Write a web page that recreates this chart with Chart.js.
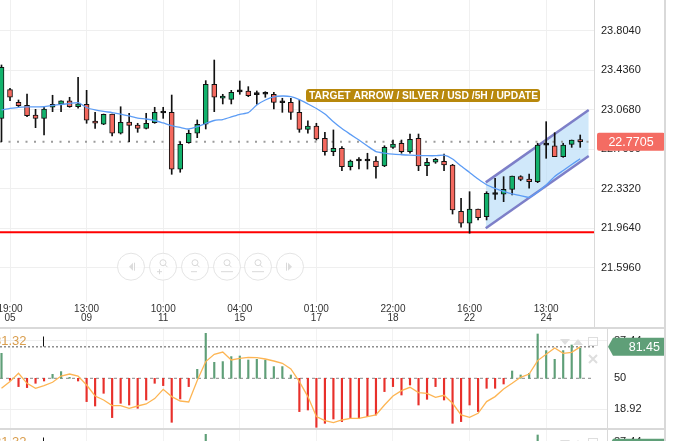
<!DOCTYPE html>
<html lang="en">
<head>
<meta charset="UTF-8">
<title>Silver / USD 5H</title>
<script src="https://cdn.jsdelivr.net/npm/chart.js"></script>
<style>
  body { margin: 0; background: #fff; }
  .wrap { position: relative; width: 682px; height: 441px; overflow: hidden; }
  .pane { position: absolute; left: 0; width: 682px; }
  .sep { position: absolute; background: #d9d9d9; }
</style>
</head>
<body>
<div class="wrap">
  <div class="pane" style="top:0;height:327px"><canvas id="priceChart"></canvas></div>
  <div class="pane" style="top:329px;height:99px"><canvas id="oscChart"></canvas></div>
  <div class="pane" style="top:430px;height:99px"><canvas id="oscChart2"></canvas></div>
  <div class="sep" style="left:0;top:327px;width:665px;height:2px"></div>
  <div class="sep" style="left:0;top:428px;width:665px;height:2px"></div>
  <div class="sep" style="left:594px;top:0;width:1px;height:327px"></div>
  <div class="sep" style="left:607px;top:329px;width:1px;height:99px"></div>
  <div class="sep" style="left:607px;top:430px;width:1px;height:99px"></div>
  <div class="sep" style="left:664px;top:0;width:2px;height:441px"></div>
</div>

<script>
// candles, one per 5h bar (index 0..68)
const opens  = [22.988,23.255,23.137,23.109,23.019,22.988,23.091,23.119,23.150,23.096,
                23.119,22.963,22.933,23.028,22.849,22.954,22.926,22.895,22.947,23.038,
                23.044,22.514,22.761,22.849,22.933,23.305,23.175,23.165,23.234,23.243,
                23.209,23.212,23.212,23.133,23.137,23.044,22.886,22.917,22.802,22.677,
                22.709,22.538,22.591,22.591,22.591,22.544,22.718,22.756,22.677,22.802,
                22.547,22.579,22.588,22.554,22.123,22.011,22.144,22.072,22.279,22.281,
                22.327,22.445,22.423,22.398,22.738,22.731,22.631,22.746,22.784];
const highs  = [23.485,23.268,23.159,23.215,23.072,23.091,23.203,23.150,23.184,23.370,
                23.249,23.044,23.028,23.028,23.096,23.035,22.942,23.035,23.091,23.091,
                23.205,22.771,22.880,22.973,23.339,23.531,23.212,23.249,23.336,23.283,
                23.243,23.236,23.231,23.175,23.175,23.159,22.966,22.942,22.858,22.880,
                22.724,22.600,22.622,22.663,22.631,22.733,22.786,22.786,22.842,22.842,
                22.616,22.616,22.656,22.560,22.244,22.305,22.144,22.305,22.430,22.445,
                22.451,22.454,22.470,22.756,22.957,22.854,22.756,22.786,22.833];
const lows   = [22.771,23.152,23.091,23.003,22.901,22.833,23.050,23.050,23.091,23.082,
                22.942,22.895,22.929,22.824,22.842,22.771,22.858,22.889,22.942,22.988,
                22.467,22.486,22.756,22.808,22.889,23.050,23.122,23.122,23.212,23.190,
                23.119,23.184,23.075,23.044,22.979,22.858,22.849,22.786,22.644,22.640,
                22.501,22.507,22.516,22.516,22.430,22.538,22.709,22.663,22.663,22.501,
                22.454,22.569,22.501,22.097,21.974,21.918,22.042,22.042,22.234,22.212,
                22.274,22.407,22.337,22.389,22.616,22.631,22.625,22.718,22.718];
const closes = [23.463,23.184,23.106,23.013,22.988,23.075,23.119,23.150,23.096,23.122,
                22.970,22.942,23.026,22.849,22.951,22.923,22.895,22.942,23.044,23.038,
                22.514,22.746,22.849,22.933,23.305,23.184,23.196,23.231,23.234,23.199,
                23.209,23.212,23.137,23.133,23.044,22.886,22.917,22.796,22.677,22.709,
                22.538,22.591,22.591,22.591,22.538,22.718,22.749,22.677,22.793,22.544,
                22.579,22.607,22.554,22.135,22.011,22.144,22.063,22.290,22.279,22.327,
                22.451,22.420,22.398,22.740,22.738,22.631,22.740,22.786,22.7705];
const movingAvg = [23.066,23.080,23.091,23.094,23.094,23.096,23.108,23.117,23.126,23.134,
                23.089,23.066,23.052,23.042,23.028,23.010,22.991,22.982,22.968,22.945,
                22.921,22.903,22.889,22.910,22.940,22.968,22.977,23.001,23.026,23.041,
                23.112,23.159,23.187,23.196,23.190,23.162,23.122,23.080,23.028,22.957,
                22.893,22.839,22.786,22.731,22.679,22.665,22.654,22.649,22.645,22.642,
                22.640,22.640,22.645,22.610,22.544,22.484,22.423,22.370,22.335,22.307,
                22.284,22.268,22.253,22.302,22.367,22.447,22.502,22.558,22.612];

// oscillator pane
const oscBars = [75,48,41.7,40.7,45,47.3,54,56.7,51,47.3,
                 26.7,22.3,35,10.7,25,23.3,20,28.3,45,42.7,
                 6,29.3,41.7,59,95,66,66.7,71.7,72.3,68.3,
                 69,68.3,61.7,61.7,53.3,16.7,18.3,1,5,9.3,
                 6.7,10,10,11.7,13.3,36.7,41.7,33.3,43.3,23.3,
                 29,41.7,28.3,5,6.7,23.3,16.7,40,40,44.3,
                 57.3,53.3,55,94.3,77.7,69,77.7,83.3,80];
const oscSignal = [40,46.7,55,45,40,42.7,46,52.3,54.3,52.3,
                 43.3,32.3,28.3,22.7,22.7,20,22.3,24.3,29.7,39,
                 31.7,27.3,26.3,47.7,66.7,74,76.3,68.3,70,71,
                 70.7,69.3,67.3,65,59.3,46.7,31.7,11.7,7.7,5.7,
                 8.3,10,10,11.7,13.3,23.3,32.3,37.7,41,35.7,
                 35,31,33,25,13.3,11,15,26.7,31.7,39.3,
                 45,51,54.3,67.7,74,80.3,75,76,81.45];

// axes
const tickIdx  = [1, 10, 19, 28, 37, 46, 55, 64];
const tickTime = ['19:00','13:00','10:00','04:00','01:00','22:00','16:00','13:00'];
const tickDay  = ['05','09','11','15','17','18','22','24'];
const priceTicks = [21.596, 21.964, 22.332, 22.700, 23.068, 23.436, 23.804];
const oscTicks = [18.92, 50, 87.44];

// levels and drawings
const lastPrice = 22.7705;
const supportLevel = 21.927;
const channelX = [56.9, 69.0];
const channelTop = [22.392, 23.066];
const channelBottom = [21.964, 22.637];
const oscLast = 81.45;
const oscLegend = 81.32;
const noteText = 'TARGET ARROW / SILVER / USD /5H / UPDATE';
const noteAt = [35.78, 23.201];

const FONT = 'Arial, "Liberation Sans", sans-serif';
const X_MIN = -0.176, X_MAX = 69.62;
const GREEN = '#12b26c', RED = '#f4695f';

function candleColor(i) {
  if (closes[i] > opens[i]) return GREEN;
  if (closes[i] < opens[i]) return RED;
  return '#111';
}

function hLine(value, xFrom, xTo) {
  return [{ x: xFrom, y: value }, { x: xTo, y: value }];
}

function magnifier(ctx, cx, cy) {
  ctx.beginPath();
  ctx.arc(cx, cy - 4, 3, 0, Math.PI * 2);
  ctx.moveTo(cx + 2, cy - 2);
  ctx.lineTo(cx + 4.5, cy + 0.5);
  ctx.stroke();
}

const priceDecor = {
  id: 'priceDecor',
  afterDraw(chart) {
    const { ctx, chartArea } = chart;
    const x = chart.scales.x, y = chart.scales.y;
    ctx.save();

    // navigation buttons (faint)
    const navX = [131, 163, 195, 227, 258, 290], navY = 266.7;
    ctx.lineWidth = 1;
    navX.forEach((cx, k) => {
      ctx.fillStyle = 'rgba(255,255,255,0.75)';
      ctx.strokeStyle = '#e4e4e4';
      ctx.beginPath(); ctx.arc(cx, navY, 13.5, 0, Math.PI * 2); ctx.fill(); ctx.stroke();
      ctx.strokeStyle = '#d9d9d9'; ctx.fillStyle = '#dcdcdc';
      if (k === 0 || k === 5) {
        const d = k === 0 ? -1 : 1;
        ctx.beginPath();
        ctx.moveTo(cx + d * 2, navY); ctx.lineTo(cx - d * 2, navY - 4); ctx.lineTo(cx - d * 2, navY + 4);
        ctx.closePath(); ctx.fill();
        ctx.beginPath(); ctx.moveTo(cx - d * 3.5, navY - 4); ctx.lineTo(cx - d * 3.5, navY + 4); ctx.stroke();
      } else {
        magnifier(ctx, cx, navY);
        ctx.beginPath();
        if (k === 1) { ctx.moveTo(cx - 6, navY + 5); ctx.lineTo(cx - 1, navY + 5); ctx.moveTo(cx - 3.5, navY + 2.5); ctx.lineTo(cx - 3.5, navY + 7.5); }
        if (k === 2) { ctx.moveTo(cx - 4, navY + 5); ctx.lineTo(cx + 2, navY + 5); }
        if (k === 3 || k === 4) { ctx.moveTo(cx - 6, navY + 5); ctx.lineTo(cx + 6, navY + 5); }
        ctx.stroke();
      }
    });

    // note label
    const nx = x.getPixelForValue(noteAt[0]);
    const ny = y.getPixelForValue(noteAt[1]);
    ctx.fillStyle = '#b8880c';
    ctx.beginPath(); ctx.roundRect(nx, ny - 6.5, 234, 13, 3); ctx.fill();
    ctx.fillStyle = '#fff';
    ctx.font = 'bold 10.5px ' + FONT;
    ctx.textBaseline = 'middle';
    ctx.textAlign = 'left';
    ctx.fillText(noteText, nx + 3, ny + 0.5, 229);

    // last price tag
    const py = y.getPixelForValue(lastPrice);
    ctx.fillStyle = '#f46c63';
    ctx.beginPath(); ctx.roundRect(chartArea.right + 3, py - 9, 68, 18, 2); ctx.fill();
    ctx.fillStyle = '#fff';
    ctx.font = '12.5px ' + FONT;
    ctx.textAlign = 'center';
    ctx.fillText(lastPrice.toFixed(4), chartArea.right + 37, py + 0.5);
    ctx.restore();
  }
};

new Chart(document.getElementById('priceChart'), {
  type: 'bar',
  data: {
    datasets: [
      { type: 'line', data: channelX.map((v, i) => ({ x: v, y: channelTop[i] })),
        borderColor: '#7d7fc8', borderWidth: 2.5, pointRadius: 0, fill: '+1',
        backgroundColor: 'rgba(176,216,247,0.6)', order: 10 },
      { type: 'line', data: channelX.map((v, i) => ({ x: v, y: channelBottom[i] })),
        borderColor: '#7d7fc8', borderWidth: 2.5, pointRadius: 0, fill: false, order: 9 },
      { type: 'line', data: hLine(lastPrice, X_MIN, X_MAX), borderColor: '#9c9c9c',
        borderWidth: 2, borderDash: [2, 6.5], pointRadius: 0, order: 8 },
      { type: 'line', data: hLine(supportLevel, X_MIN, X_MAX), borderColor: '#ff0000',
        borderWidth: 2, pointRadius: 0, order: 7 },
      { type: 'bar', data: lows.map((v, i) => ({ x: i, y: [v, highs[i]] })),
        backgroundColor: '#111', barThickness: 1, grouped: false, order: 3 },
      { type: 'bar', data: opens.map((v, i) => ({ x: i, y: [v, closes[i]] })),
        backgroundColor: opens.map((v, i) => candleColor(i)), borderColor: '#111',
        borderWidth: 1, borderSkipped: false, minBarLength: 2, barThickness: 5,
        grouped: false, order: 2 },
      { type: 'line', data: movingAvg.map((v, i) => ({ x: i, y: v })),
        borderColor: '#5c9cf5', borderWidth: 1.3, pointRadius: 0, tension: 0.2, order: 1 }
    ]
  },
  options: {
    responsive: true,
    maintainAspectRatio: false,
    animation: false,
    events: [],
    layout: { padding: 0 },
    plugins: {
      legend: { display: false },
      tooltip: { enabled: false },
      filler: { drawTime: 'beforeDatasetsDraw' }
    },
    scales: {
      x: {
        type: 'linear', min: X_MIN, max: X_MAX, offset: false,
        grid: { color: '#f0f0f0', drawTicks: false, offset: false },
        border: { display: false },
        afterBuildTicks: s => { s.ticks = tickIdx.map(v => ({ value: v })); },
        ticks: {
          autoSkip: false, maxRotation: 0, padding: 3, color: '#333',
          font: { family: FONT, size: 10, lineHeight: 0.9 },
          callback: v => { const k = tickIdx.indexOf(v); return [tickTime[k], tickDay[k]]; }
        },
        afterFit: s => { s.height = 25; s.paddingLeft = 0; s.paddingRight = 0; }
      },
      y: {
        type: 'linear', position: 'right', min: 21.278, max: 24.0899, beginAtZero: false,
        grid: { color: '#efefef', drawTicks: false },
        border: { display: false },
        afterBuildTicks: s => { s.ticks = priceTicks.map(v => ({ value: v })); },
        ticks: { padding: 7, color: '#222', font: { family: FONT, size: 11 },
                 callback: v => v.toFixed(4) },
        afterFit: s => { s.width = 88; s.paddingTop = 0; s.paddingBottom = 0; }
      }
    }
  },
  plugins: [priceDecor]
});

const oscDecor = {
  id: 'oscDecor',
  afterDraw(chart) {
    const { ctx, chartArea } = chart;
    const y = chart.scales.y;
    ctx.save();

    // legend value at the left, partly cut
    ctx.fillStyle = '#d99d4c';
    ctx.font = '13px ' + FONT;
    ctx.textBaseline = 'middle';
    ctx.fillText(oscLegend.toFixed(2), -6, 12.5);
    ctx.strokeStyle = '#111'; ctx.lineWidth = 1;
    ctx.beginPath(); ctx.moveTo(43.5, 7.5); ctx.lineTo(43.5, 17.5); ctx.stroke();

    // pane icons (faint)
    ctx.fillStyle = '#dedede'; ctx.strokeStyle = '#dedede'; ctx.lineWidth = 1.5;
    ctx.beginPath(); ctx.moveTo(560, 10); ctx.lineTo(570, 10); ctx.lineTo(565, 16); ctx.closePath(); ctx.fill();
    ctx.beginPath(); ctx.moveTo(573, 16); ctx.lineTo(583, 16); ctx.lineTo(578, 10); ctx.closePath(); ctx.fill();
    ctx.lineWidth = 1;
    ctx.strokeRect(588.5, 8.5, 9, 8);
    ctx.lineWidth = 2;
    ctx.beginPath(); ctx.moveTo(589, 26); ctx.lineTo(597, 34); ctx.moveTo(597, 26); ctx.lineTo(589, 34); ctx.stroke();

    // current value tag
    const py = y.getPixelForValue(oscLast);
    const x0 = chartArea.right + 1;
    ctx.fillStyle = '#5f9f78';
    ctx.beginPath();
    ctx.moveTo(x0, py); ctx.lineTo(x0 + 5, py - 9); ctx.lineTo(x0 + 56, py - 9);
    ctx.lineTo(x0 + 56, py + 9); ctx.lineTo(x0 + 5, py + 9); ctx.closePath(); ctx.fill();
    ctx.fillStyle = '#fff';
    ctx.font = '12.5px ' + FONT;
    ctx.textAlign = 'right';
    ctx.fillText(oscLast.toFixed(2), x0 + 52, py + 0.5);
    ctx.restore();
  }
};

function drawOscillator(id) {
  new Chart(document.getElementById(id), {
    type: 'bar',
    data: {
      datasets: [
        { type: 'line', data: hLine(oscLast, X_MIN, X_MAX), borderColor: '#555',
          borderWidth: 1, borderDash: [2, 2], pointRadius: 0, order: 5 },
        { type: 'line', data: hLine(50, X_MIN, X_MAX), borderColor: '#888',
          borderWidth: 1, borderDash: [3, 3], pointRadius: 0, order: 4 },
        { type: 'bar', data: oscBars.map((v, i) => ({ x: i, y: [50, v] })),
          backgroundColor: oscBars.map(v => v >= 50 ? '#5f9f78' : '#e8302b'),
          barThickness: 1.5, grouped: false, order: 2 },
        { type: 'line', data: oscSignal.map((v, i) => ({ x: i, y: v })),
          borderColor: '#fdb553', borderWidth: 1.3, pointRadius: 0, order: 1 }
      ]
    },
    options: {
      responsive: true,
      maintainAspectRatio: false,
      animation: false,
      events: [],
      layout: { padding: 0 },
      plugins: { legend: { display: false }, tooltip: { enabled: false } },
      scales: {
        x: {
          type: 'linear', min: X_MIN, max: 71.147, offset: false,
          grid: { color: '#f2f2f2', drawTicks: false, offset: false },
          border: { display: false },
          afterBuildTicks: s => { s.ticks = tickIdx.map(v => ({ value: v })); },
          ticks: { display: false },
          afterFit: s => { s.height = 0; s.paddingLeft = 0; s.paddingRight = 0; }
        },
        y: {
          type: 'linear', position: 'right', min: 0.3, max: 99.3,
          grid: { drawTicks: false, color: c => c.tick && c.tick.value === 50 ? 'rgba(0,0,0,0)' : '#efefef' },
          border: { display: false },
          afterBuildTicks: s => { s.ticks = oscTicks.map(v => ({ value: v })); },
          ticks: { padding: 7, color: '#222', font: { family: FONT, size: 11 },
                   callback: v => String(v) },
          afterFit: s => { s.width = 75; s.paddingTop = 0; s.paddingBottom = 0; }
        }
      }
    },
    plugins: [oscDecor]
  });
}

drawOscillator('oscChart');
drawOscillator('oscChart2');
</script>
</body>
</html>
